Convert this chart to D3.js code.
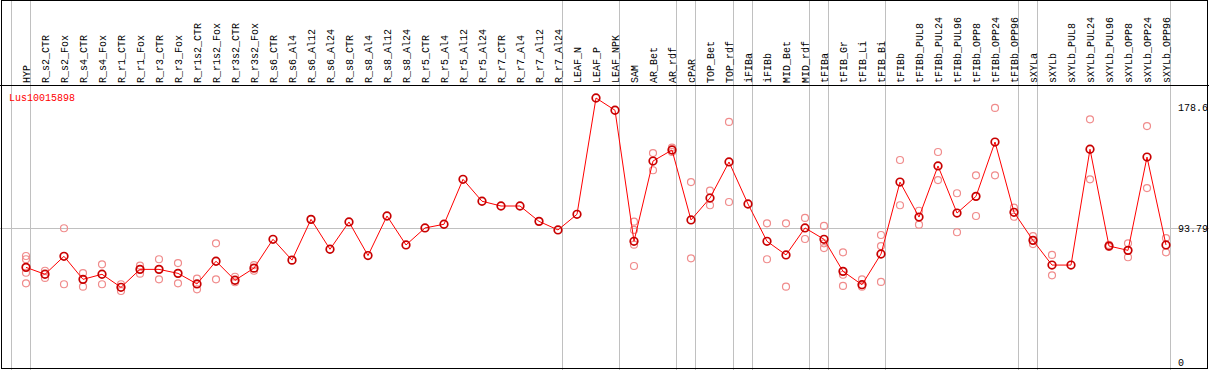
<!DOCTYPE html>
<html>
<head>
<meta charset="utf-8">
<title>Lus10015898</title>
<script src="https://cdn.jsdelivr.net/npm/d3@7"></script>
<style>
body { margin: 0; background: #fff; }
svg text { font-family: "Liberation Mono", "DejaVu Sans Mono", monospace; font-size: 10px; }
</style>
</head>
<body>
<svg width="1209" height="370"></svg>
<script>

var samples = ["HYP","R_s2_CTR","R_s2_Fox","R_s4_CTR","R_s4_Fox","R_r1_CTR","R_r1_Fox","R_r3_CTR","R_r3_Fox",
  "R_r1s2_CTR","R_r1s2_Fox","R_r3s2_CTR","R_r3s2_Fox","R_s6_CTR","R_s6_Al4","R_s6_Al12","R_s6_Al24",
  "R_s8_CTR","R_s8_Al4","R_s8_Al12","R_s8_Al24","R_r5_CTR","R_r5_Al4","R_r5_Al12","R_r5_Al24",
  "R_r7_CTR","R_r7_Al4","R_r7_Al12","R_r7_Al24","LEAF_N","LEAF_P","LEAF_NPK","SAM","AR_Bet","AR_rdf",
  "cPAR","TOP_Bet","TOP_rdf","iFIBa","iFIBb","MID_Bet","MID_rdf","tFIBa","tFIB_Gr","tFIB_Li","tFIB_Bi",
  "tFIBb","tFIBb_PUL8","tFIBb_PUL24","tFIBb_PUL96","tFIBb_OPP8","tFIBb_OPP24","tFIBb_OPP96",
  "sXYLa","sXYLb","sXYLb_PUL8","sXYLb_PUL24","sXYLb_PUL96","sXYLb_OPP8","sXYLb_OPP24","sXYLb_OPP96"];

var means = [68.2,63.7,75.4,60.4,63.7,55.2,66.9,66.9,64.3,57.4,72.2,59.8,67.7,86.5,72.9,99.5,80.0,
  97.8,75.9,101.7,82.8,93.9,96.3,125.6,111.3,108.2,108.2,98.2,92.6,102.8,178.6,170.6,85.2,137.5,144.7,
  99.1,113.4,136.9,109.5,85.2,76.3,93.9,86.5,65.6,56.9,76.9,123.8,101.0,134.3,103.6,114.5,149.9,104.1,
  85.8,69.7,69.7,145.2,82.1,79.3,140.1,82.8];

var replicates = [
  [75.6,73.5,64.7,57.8],[66.0,61.3],[93.7,57.2],[64.5,55.6],[70.2,57.2],[57.2,52.8],[69.3,64.1],
  [73.5,60.4],[71.0,57.8],[60.8,53.9],[83.9,60.4],[62.1,58.5],[69.7,66.0],
  [],[],[],[],[],[],[],[],[],[],[],[],[],[],[],[],[],[],[],
  [98.0,92.6,83.0,69.1],[142.7,131.5],[146.2,143.4],[123.8,74.1],[118.2,108.7],[163.0,110.8],[],
  [96.9,73.5],[96.9,55.6],[100.4,86.7],[95.2,83.9,80.8],[78.0,63.4,56.1],[60.4,55.6],[89.3,82.1,58.7],
  [138.2,108.7],[105.1,96.0],[143.4,125.1],[116.5,91.1],[128.2,101.7],[172.1,128.2],[107.1,101.2],
  [88.6,83.4],[76.3,63.0],[],[164.7,125.6],[82.8,81.5],[83.9,74.8],[160.3,119.9],[87.3,78.0]];

// a gray line is drawn after each of these samples
var groupEnds = ["HYP","R_r7_Al24","LEAF_NPK","AR_rdf","cPAR","TOP_rdf","iFIBa","MID_rdf","tFIBa",
  "tFIB_Bi","tFIBb_OPP96","sXYLa","sXYLb_OPP96"];

var yTicks = [178.6, 93.79, 0];
var geneName = "Lus10015898";

var svg = d3.select("svg"),
	width = +svg.attr("width"),
	height = +svg.attr("height");

var headerH = 85;

var x = d3.scalePoint().domain(samples).range([26, 26 + 19 * (samples.length - 1)]);
var y = d3.scaleLinear().domain([0, 178.6]).range([372, 98]);

// group separators
var sepX = [x(samples[0]) - 19 + 4.5].concat(groupEnds.map(function(s) { return x(s) + 4.5; }));
svg.append("g")
	.selectAll("line")
	.data(sepX)
	.enter().append("line")
	  .attr("x1", function(d) { return Math.round(d) - 0.5; })
	  .attr("x2", function(d) { return Math.round(d) - 0.5; })
	  .attr("y1", 0)
	  .attr("y2", height)
	  .attr("stroke", "#c0c0c0")
	  .attr("stroke-width", 1)
	  .attr("shape-rendering", "crispEdges");

// average line
svg.append("line")
	.attr("x1", 0).attr("x2", width)
	.attr("y1", Math.round(y(93.79)) + 0.5).attr("y2", Math.round(y(93.79)) + 0.5)
	.attr("stroke", "#c0c0c0")
	.attr("shape-rendering", "crispEdges");

// frame
svg.append("rect")
	.attr("x", 1.5).attr("y", 0.5)
	.attr("width", width - 3).attr("height", height - 2)
	.attr("fill", "none")
	.attr("stroke", "#000")
	.attr("shape-rendering", "crispEdges");
svg.append("line")
	.attr("x1", 0).attr("x2", width)
	.attr("y1", headerH + 0.5).attr("y2", headerH + 0.5)
	.attr("stroke", "#000")
	.attr("shape-rendering", "crispEdges");

// sample labels
svg.append("g")
	.selectAll("text")
	.data(samples)
	.enter().append("text")
	  .attr("transform", function(d) { return "translate(" + (x(d) + 4) + "," + (headerH - 2) + ") rotate(-90)"; })
	  .text(function(d) { return d; });

// y labels
svg.append("g")
	.selectAll("text")
	.data(yTicks)
	.enter().append("text")
	  .attr("x", 1178)
	  .attr("y", function(d) { return Math.min(Math.max(y(d) + 4, headerH + 26), height - 4); })
	  .text(function(d) { return d; });

svg.append("text")
	.attr("x", 9)
	.attr("y", 101)
	.attr("fill", "#f00")
	.text(geneName);

// replicate points
var reps = [];
samples.forEach(function(s, i) {
  replicates[i].forEach(function(v) { reps.push({s: s, v: v}); });
});
svg.append("g")
	.selectAll("circle")
	.data(reps)
	.enter().append("circle")
	  .attr("cx", function(d) { return x(d.s); })
	  .attr("cy", function(d) { return y(d.v); })
	  .attr("r", 3.5)
	  .attr("fill", "none")
	  .attr("stroke", "#f08c8c")
	  .attr("stroke-width", 1.2);

// mean line
var line = d3.line()
	.x(function(d, i) { return x(samples[i]); })
	.y(function(d) { return y(d); });
svg.append("path")
	.datum(means)
	.attr("d", line)
	.attr("fill", "none")
	.attr("stroke", "#f00")
	.attr("stroke-width", 1);

svg.append("g")
	.selectAll("circle")
	.data(means)
	.enter().append("circle")
	  .attr("cx", function(d, i) { return x(samples[i]); })
	  .attr("cy", function(d) { return y(d); })
	  .attr("r", 3.8)
	  .attr("fill", "none")
	  .attr("stroke", "#c80000")
	  .attr("stroke-width", 1.7);

</script>
</body>
</html>
